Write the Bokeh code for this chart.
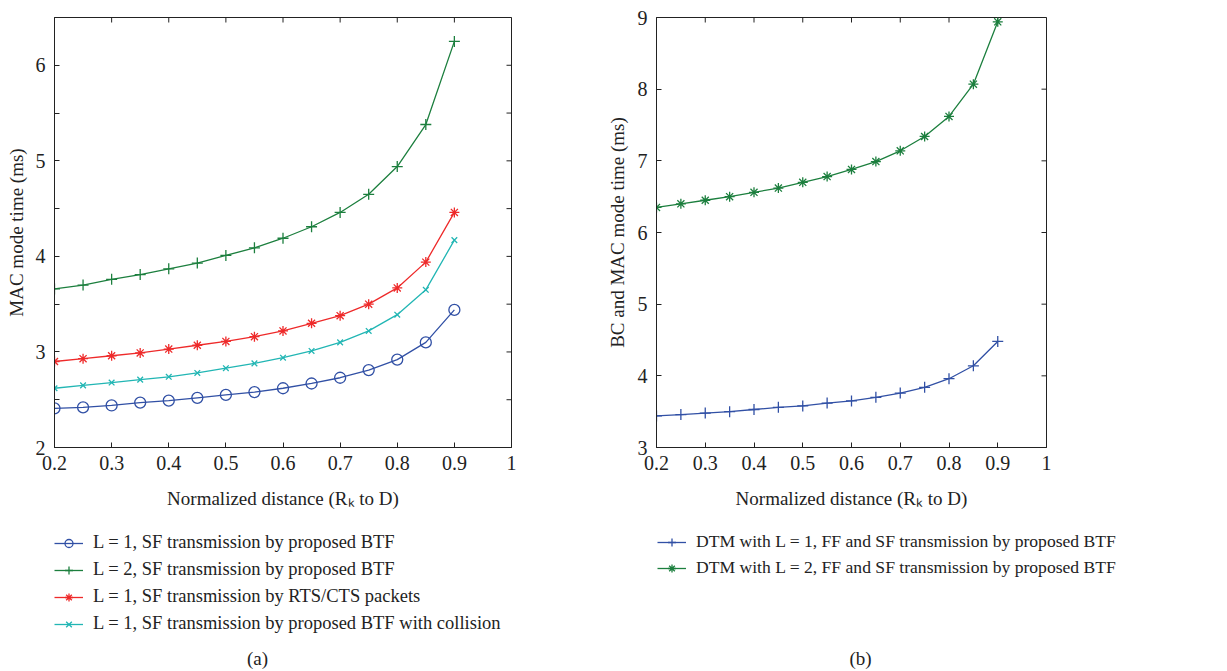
import math
from bokeh.plotting import figure
from bokeh.models import Range1d, FixedTicker, Legend, LegendItem, Label
from bokeh.layouts import row, column
from bokeh.embed import file_html
from bokeh.resources import INLINE

# ---------------- data ----------------
distance = [0.2, 0.25, 0.3, 0.35, 0.4, 0.45, 0.5, 0.55, 0.6, 0.65, 0.7, 0.75, 0.8, 0.85, 0.9]

# panel (a)
l1_btf = [2.41, 2.42, 2.44, 2.47, 2.49, 2.52, 2.55, 2.58, 2.62, 2.67, 2.73, 2.81, 2.92, 3.10, 3.44]
l2_btf = [3.66, 3.70, 3.76, 3.81, 3.87, 3.93, 4.01, 4.09, 4.19, 4.31, 4.46, 4.65, 4.94, 5.38, 6.25]
l1_rts = [2.90, 2.93, 2.96, 2.99, 3.03, 3.07, 3.11, 3.16, 3.22, 3.30, 3.38, 3.50, 3.67, 3.94, 4.46]
l1_col = [2.62, 2.65, 2.68, 2.71, 2.74, 2.78, 2.83, 2.88, 2.94, 3.01, 3.10, 3.22, 3.39, 3.65, 4.17]

# panel (b)
dtm_l1 = [3.44, 3.46, 3.48, 3.50, 3.53, 3.56, 3.58, 3.62, 3.65, 3.70, 3.76, 3.84, 3.96, 4.14, 4.48]
dtm_l2 = [6.35, 6.40, 6.45, 6.50, 6.56, 6.62, 6.70, 6.78, 6.88, 6.99, 7.14, 7.34, 7.62, 8.07, 8.94]

labels_a = ["L = 1, SF transmission by proposed BTF",
            "L = 2, SF transmission by proposed BTF",
            "L = 1, SF transmission by RTS/CTS packets",
            "L = 1, SF transmission by proposed BTF with collision"]
labels_b = ["DTM with L = 1, FF and SF transmission by proposed BTF",
            "DTM with L = 2, FF and SF transmission by proposed BTF"]

x_ticks = [0.2, 0.3, 0.4, 0.5, 0.6, 0.7, 0.8, 0.9, 1.0]
x_tick_labels = ["0.2", "0.3", "0.4", "0.5", "0.6", "0.7", "0.8", "0.9", "1"]
ya_ticks = [2, 3, 4, 5, 6]
ya_minor = [2.5, 3.5, 4.5, 5.5, 6.5]
yb_ticks = [3, 4, 5, 6, 7, 8, 9]

x_label = "Normalized distance (R\u2096 to D)"

# ---------------- style ----------------
FONT = "Liberation Serif"
INK = "#222222"
BLUE = "#3150a5"
GREEN = "#1c7f3e"
RED = "#ee2a2a"
CYAN = "#22b6b4"
LW = 1.3
NAN = float("nan")


def style_axis(ax):
    ax.major_tick_in = 5
    ax.major_tick_out = 0
    ax.minor_tick_in = 5
    ax.minor_tick_out = 0
    ax.axis_line_color = INK
    ax.major_tick_line_color = INK
    ax.minor_tick_line_color = INK
    ax.major_label_text_font = FONT
    ax.major_label_text_font_size = "20px"
    ax.major_label_text_color = INK
    ax.axis_label_text_font = FONT
    ax.axis_label_text_font_size = "19px"
    ax.axis_label_text_font_style = "normal"
    ax.axis_label_text_color = INK


def make_fig(w, h, yr, yticks, yminor, ylabel, borders, ylabel_standoff):
    p = figure(width=w, height=h, x_range=Range1d(0.2, 1.0), y_range=Range1d(*yr),
               output_backend="svg", toolbar_location=None,
               min_border_left=borders[0], min_border_right=borders[1],
               min_border_top=borders[2], min_border_bottom=borders[3])
    p.xgrid.visible = False
    p.ygrid.visible = False
    p.outline_line_color = INK
    p.outline_line_width = 1
    p.background_fill_color = "white"
    p.border_fill_color = "white"

    xa = p.xaxis[0]
    xa.ticker = FixedTicker(ticks=x_ticks, minor_ticks=[])
    xa.major_label_overrides = {t: s for t, s in zip(x_ticks, x_tick_labels)}
    xa.axis_label = x_label
    style_axis(xa)
    xa.major_label_standoff = 8
    xa.axis_label_standoff = 15

    ya = p.yaxis[0]
    ya.ticker = FixedTicker(ticks=yticks, minor_ticks=yminor)
    ya.axis_label = ylabel
    style_axis(ya)
    ya.major_label_standoff = 9
    ya.axis_label_standoff = ylabel_standoff

    # mirrored inward ticks on the top and right edges of the box
    p.ray(x=x_ticks, y=yr[1], length=5, length_units="screen", angle=-math.pi / 2,
          line_color=INK, line_width=1)
    p.ray(x=1.0, y=list(yticks) + list(yminor), length=5, length_units="screen",
          angle=math.pi, line_color=INK, line_width=1)
    return p


def series(p, y, color, marker, size):
    p.line(distance, y, line_color=color, line_width=LW)
    p.scatter(distance, y, marker=marker, size=size, line_color=color,
              fill_color=None, line_width=LW)


# ---------------- panel (a) ----------------
pa = make_fig(600, 515, (2, 6.5), ya_ticks, ya_minor, "MAC mode time (ms)",
              (54, 89, 17, 67), 6)
series(pa, l1_btf, BLUE, "circle", 11)
series(pa, l2_btf, GREEN, "cross", 11)
series(pa, l1_rts, RED, "asterisk", 10)
series(pa, l1_col, CYAN, "x", 8)

# ---------------- panel (b) ----------------
pb = make_fig(627, 515, (3, 9), yb_ticks, [], "BC and MAC mode time (ms)",
              (56, 181, 15, 68), 7)
series(pb, dtm_l1, BLUE, "cross", 11)
series(pb, dtm_l2, GREEN, "asterisk", 10)

# ---------------- legends and captions strip ----------------
W, H = 1227, 156
lg = figure(width=W, height=H, x_range=Range1d(0, W), y_range=Range1d(0, H),
            output_backend="svg", toolbar_location=None,
            min_border_left=0, min_border_right=0, min_border_top=0, min_border_bottom=0)
lg.axis.visible = False
lg.grid.visible = False
lg.outline_line_color = None
lg.background_fill_color = "white"
lg.border_fill_color = "white"


def legend_items(entries):
    items = []
    for label, color, marker, size in entries:
        r1 = lg.line(x=[NAN], y=[NAN], line_color=color, line_width=LW)
        r2 = lg.scatter(x=[NAN], y=[NAN], marker=marker, size=size, line_color=color,
                        fill_color=None, line_width=LW)
        items.append(LegendItem(label=label, renderers=[r1, r2]))
    return items


def add_legend(items, loc, fsize, spacing):
    lg.add_layout(Legend(items=items, location=loc, orientation="vertical",
                         border_line_color=None, background_fill_alpha=0,
                         padding=0, margin=0, spacing=spacing, label_height=20, glyph_height=20,
                         glyph_width=29, label_standoff=10,
                         label_text_font=FONT, label_text_font_size=fsize,
                         label_text_color=INK))


add_legend(legend_items([(labels_a[0], BLUE, "circle", 11),
                         (labels_a[1], GREEN, "cross", 11),
                         (labels_a[2], RED, "asterisk", 10),
                         (labels_a[3], CYAN, "x", 8)]), (54, 37), "18.5px", 6)
add_legend(legend_items([(labels_b[0], BLUE, "cross", 11),
                         (labels_b[1], GREEN, "asterisk", 10)]), (657, 93), "17.6px", 5)

for cap, cx in (("(a)", 257), ("(b)", 860)):
    lg.add_layout(Label(x=cx, y=13, text=cap, text_font=FONT, text_font_size="19px",
                        text_align="center", text_baseline="middle", text_color=INK))

layout = column(row(pa, pb), lg)
open("out.html", "w").write(file_html(layout, INLINE))
